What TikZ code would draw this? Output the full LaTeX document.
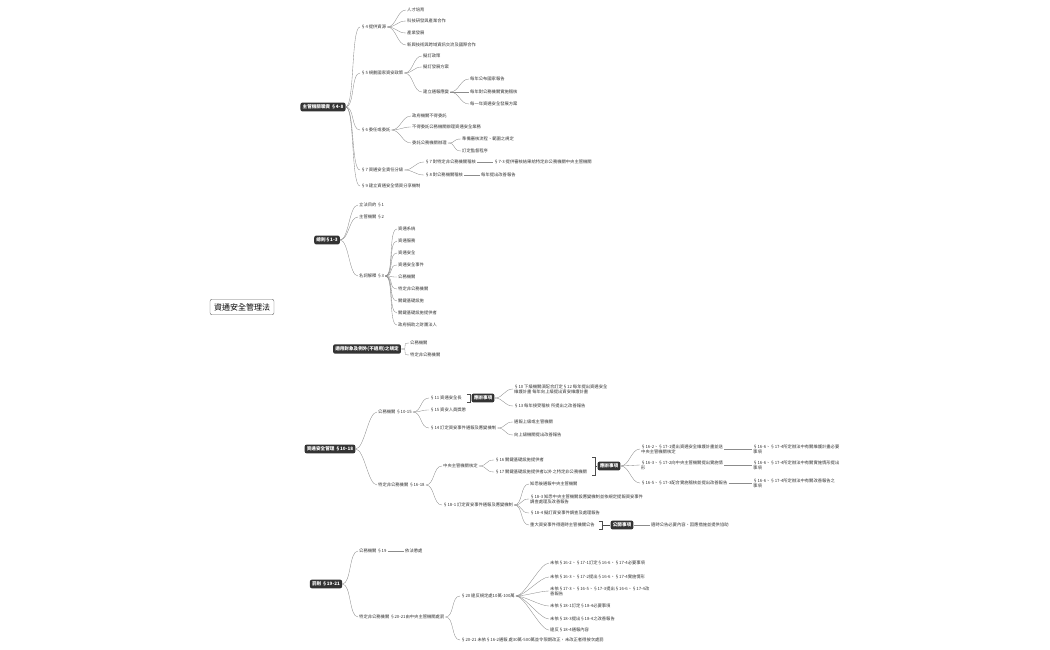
\documentclass[tikz,border=0pt]{standalone}
\usepackage{fontspec}
\setmainfont{Noto Sans CJK TC}
\begin{document}
\begin{tikzpicture}[x=1pt,y=-1pt,
  t/.style={font=\fontsize{4.3}{5.2}\selectfont,inner sep=1pt,anchor=west,text=black!80},
  w/.style={t,align=left},
  d/.style={font=\fontsize{4.6}{5.5}\selectfont\bfseries,fill=black!80,text=white,rounded corners=2pt,inner sep=2.2pt},
  c/.style={draw=black!45,line width=0.35pt},
  br/.style={draw=black!70,line width=0.5pt}]
\useasboundingbox (0,0) rectangle (1050,650);
\newcommand\cn[2]{\draw[c] (#1.east) .. controls +(9,0) and +(-9,0) .. (#2.west);}
\newcommand\sln[2]{\draw[c] (#1.east) -- (#2.west);}
% root
\node[draw=black!60,rounded corners=2pt,font=\fontsize{8}{9}\selectfont,inner sep=4pt,fill=white] (root) at (242,307) {資通安全管理法};
% Branch 1
\node[d] (b1) at (323,107) {主管機關職責 §4-8};
\node[t] (a4) at (360,27) {§4 提供資源};
\node[t] (a5) at (360,73) {§5 規劃國家資安政策};
\node[t] (a6) at (360,130) {§6 委任或委託};
\node[t] (a7) at (360,170) {§7 資通安全責任分級};
\node[t] (a9) at (360,186) {§9 建立資通安全情資分享機制};
\foreach \n in {a4,a5,a6,a7,a9}{\cn{b1}{\n}}
\node[t] (a41) at (406,10) {人才培育};
\node[t] (a42) at (406,21) {科技研發與產業合作};
\node[t] (a43) at (406,33) {產業發展};
\node[t] (a44) at (406,45) {新興技術與跨域資訊交流及國際合作};
\foreach \n in {a41,a42,a43,a44}{\cn{a4}{\n}}
\node[t] (a51) at (422,56) {擬訂政策};
\node[t] (a52) at (422,67) {擬訂發展方案};
\node[t] (a53) at (422,92) {建立通報應變};
\foreach \n in {a51,a52,a53}{\cn{a5}{\n}}
\node[t] (a531) at (469,79) {每年公布國家報告};
\node[t] (a532) at (469,92) {每年對公務機關實施稽核};
\node[t] (a533) at (469,104) {每一年資通安全發展方案};
\foreach \n in {a531,a532,a533}{\cn{a53}{\n}}
\node[t] (a61) at (411,116) {政府機關不得委託};
\node[t] (a62) at (411,127) {不得委託公務機關辦理資通安全業務};
\node[t] (a63) at (411,143) {委託公務機關辦理};
\foreach \n in {a61,a62,a63}{\cn{a6}{\n}}
\node[t] (a631) at (461,139) {準備審核流程、範圍之規定};
\node[t] (a632) at (461,151) {訂定監督程序};
\cn{a63}{a631}\cn{a63}{a632}
\node[t] (a71) at (424,162) {§7 對特定非公務機關稽核};
\node[t] (a72) at (424,175) {§8 對公務機關稽核};
\cn{a7}{a71}\cn{a7}{a72}
\node[t] (a711) at (493,162) {§7-3 提供審核結果給特定非公務機關中央主管機關};
\node[t] (a721) at (480,175) {每年提出改善報告};
\sln{a71}{a711}\sln{a72}{a721}
% Branch 2
\node[d] (b2) at (327,240) {總則§1-3};
\node[t] (g1) at (358,205) {立法目的 §1};
\node[t] (g2) at (358,217) {主管機關 §2};
\node[t] (g3) at (358,276) {名詞解釋 §3};
\foreach \n in {g1,g2,g3}{\cn{b2}{\n}}
\foreach \s [count=\i] in {資通系統,資通服務,資通安全,資通安全事件,公務機關,特定非公務機關,關鍵基礎設施,關鍵基礎設施提供者,政府捐助之財團法人}{
  \node[t] (g3\i) at (397,217+12*\i) {\s};
  \cn{g3}{g3\i}}
% Branch 3
\node[d] (b3) at (367,349) {適用對象及例外(不適用)之規定};
\node[t] (h1) at (409,343) {公務機關};
\node[t] (h2) at (409,355) {特定非公務機關};
\cn{b3}{h1}\cn{b3}{h2}
% Branch 4
\node[d] (b4) at (330,449) {資通安全管理 §10-18};
\node[t] (p) at (377,412) {公務機關 §10-15};
\node[t] (q) at (377,485) {特定非公務機關 §16-18};
\cn{b4}{p}\cn{b4}{q}
\node[t] (p1) at (429,398) {§11 資通安全長};
\node[t] (p2) at (429,410) {§15 資安人員獎懲};
\node[t] (p3) at (429,428) {§14 訂定資安事件通報及應變機制};
\foreach \n in {p1,p2,p3}{\cn{p}{\n}}
\node[d] (pd) at (483,398) {應辦事項};
\draw[br] (p1.east)++(4,-4) -- +(3,0) -- +(3,8) -- +(0,8);
\draw[br] (p1.east)++(7,0) -- (pd.west);
\node[w] (pd1) at (513,389) {§10 下級機關須配合訂定§12 每年提出資通安全\\維護計畫 每年向上級提出資安維護計畫};
\node[t] (pd2) at (513,406) {§13 每年接受稽核 所提出之改善報告};
\cn{pd}{pd1}\cn{pd}{pd2}
\node[t] (p31) at (513,422) {通報上級或主管機關};
\node[t] (p32) at (513,435) {向上級機關提出改善報告};
\cn{p3}{p31}\cn{p3}{p32}
\node[t] (q1) at (442,466) {中央主管機關核定};
\node[t] (q2) at (442,505) {§18-1 訂定資安事件通報及應變機制};
\cn{q}{q1}\cn{q}{q2}
\node[t] (q11) at (494,460) {§16 關鍵基礎設施提供者};
\node[t] (q12) at (494,472) {§17 關鍵基礎設施提供者以外之特定非公務機關};
\cn{q1}{q11}\cn{q1}{q12}
\node[d] (qd) at (609,466) {應辦事項};
\draw[br] (592,457) -- (595,457) -- (595,475) -- (592,475) (595,466) -- (qd.west);
\node[w] (qd1) at (640,449) {§16-2、§17-1提出資通安全維護計畫並送\\中央主管機關核定};
\node[w] (qd2) at (640,465) {§16-3、§17-2向中央主管機關提出實施情\\形};
\node[t] (qd3) at (640,483) {§16-5、§17-3配合實施稽核並提出改善報告};
\foreach \n in {qd1,qd2,qd3}{\cn{qd}{\n}}
\node[w] (qe1) at (752,449) {§16-6、§17-4所定辦法中有關維護計畫必要\\事項};
\node[w] (qe2) at (752,465) {§16-6、§17-4所定辦法中有關實施情形提出\\事項};
\node[w] (qe3) at (752,483) {§16-6、§17-4所定辦法中有關改善報告之\\事項};
\sln{qd1}{qe1}\sln{qd2}{qe2}\sln{qd3}{qe3}
\node[t] (q21) at (529,484) {知悉後通報中央主管機關};
\node[w] (q22) at (529,499) {§18-3 知悉中央主管機關設應變機制並依規定提報資安事件\\調查處理及改善報告};
\node[t] (q23) at (529,513) {§18-4 擬訂資安事件調查及處理報告};
\node[t] (q24) at (529,525) {重大資安事件得適時主管機關公告};
\foreach \n in {q21,q22,q23,q24}{\cn{q2}{\n}}
\node[d] (qf) at (622,525) {公開事項};
\draw[br] (q24.east)++(3,-4) -- +(3,0) -- +(3,8) -- +(0,8);
\draw[br] (q24.east)++(6,0) -- (qf.west);
\node[t] (qf1) at (650,525) {適時公告必要內容、因應措施並提供協助};
\sln{qf}{qf1}
% Branch 5
\node[d] (b5) at (326,584) {罰則 §19-21};
\node[t] (r1) at (358,551) {公務機關 §19};
\node[t] (r2) at (358,617) {特定非公務機關 §20-21由中央主管機關處罰};
\cn{b5}{r1}\cn{b5}{r2}
\node[t] (r11) at (404,551) {依法懲處};
\sln{r1}{r11}
\node[t] (r21) at (460,596) {§20 違反規定處10萬-100萬};
\node[t] (r22) at (460,640) {§20-21 未依§16-2通報 處30萬-500萬並令限期改正，未改正者得按次處罰};
\cn{r2}{r21}\cn{r2}{r22}
\node[t] (s1) at (549,563) {未依§16-2、§17-1訂定§16-6、§17-4必要事項};
\node[t] (s2) at (549,577) {未依§16-3、§17-2提出§16-6、§17-4實施情形};
\node[w] (s3) at (549,591) {未依§17-3、§16-5、§17-3提出§16-6、§17-4改\\善報告};
\node[t] (s4) at (549,606) {未依§18-1訂定§18-4必要事項};
\node[t] (s5) at (549,619) {未依§18-3提出§18-4之改善報告};
\node[t] (s6) at (549,630) {違反§18-4通報內容};
\foreach \n in {s1,s2,s3,s4,s5,s6}{\cn{r21}{\n}}
\end{tikzpicture}
\end{document}
